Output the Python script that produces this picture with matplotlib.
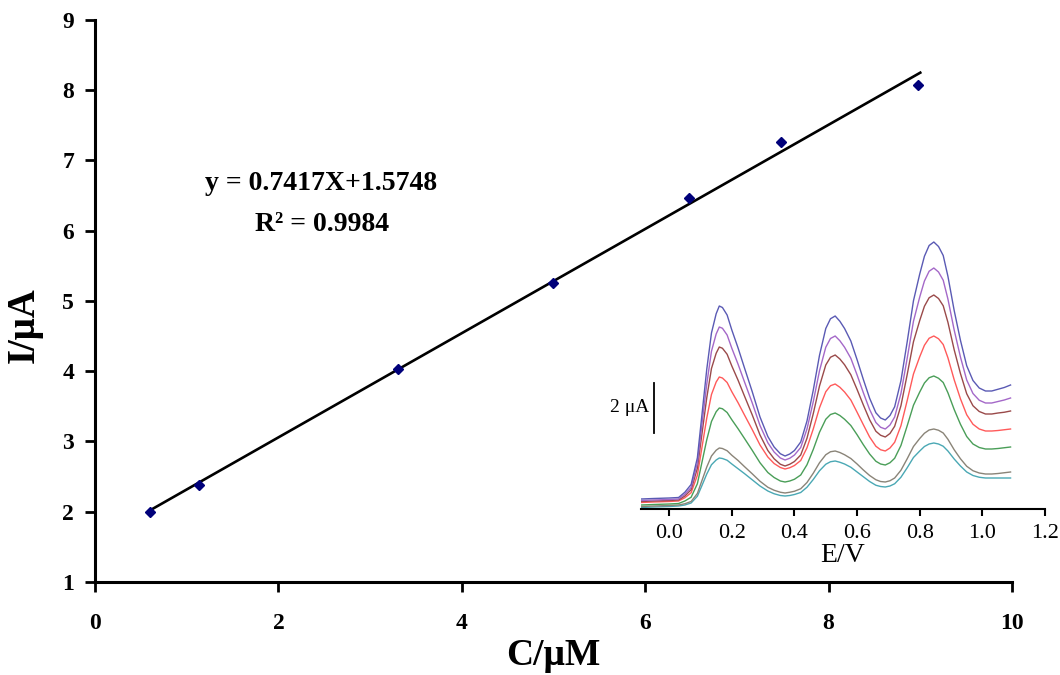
import matplotlib
matplotlib.use("Agg")
import matplotlib.pyplot as plt

plt.rcParams['font.family'] = ['Liberation Serif', 'DejaVu Serif']

# ---------------- main calibration data ----------------
conc = [0.6, 1.13, 3.3, 5.0, 6.48, 7.48, 8.97]
current = [2.0, 2.38, 4.03, 5.26, 6.47, 7.26, 8.07]
slope = 0.7417
intercept = 1.5748
fit_x = [0.6, 9.0]
x_ticks = [0, 2, 4, 6, 8, 10]
y_ticks = [1, 2, 3, 4, 5, 6, 7, 8, 9]

# ---------------- inset voltammograms (μA) ----------------
E = [-0.09, -0.05, 0.0, 0.03,
     0.05, 0.07, 0.09, 0.105, 0.12, 0.135, 0.15, 0.16,
     0.17, 0.185, 0.20, 0.22, 0.24, 0.265, 0.29, 0.315, 0.335, 0.355, 0.37,
     0.385, 0.40, 0.42, 0.44, 0.46, 0.48, 0.50, 0.515, 0.53,
     0.545, 0.56, 0.58, 0.60, 0.62, 0.64, 0.66, 0.675, 0.69,
     0.705, 0.72, 0.74, 0.76, 0.78, 0.80, 0.815, 0.83, 0.845,
     0.86, 0.875, 0.89, 0.91, 0.93, 0.95, 0.97, 0.99, 1.01, 1.03,
     1.05, 1.07, 1.09]
i_blue = [0.40, 0.42, 0.44, 0.46,
          0.67, 0.98, 2.05, 3.82, 5.59, 7.04, 7.81, 8.12,
          8.06, 7.76, 7.16, 6.44, 5.66, 4.70, 3.68, 2.90, 2.48, 2.21, 2.12,
          2.20, 2.34, 2.68, 3.52, 4.75, 6.15, 7.22, 7.61, 7.72,
          7.51, 7.22, 6.72, 5.97, 5.18, 4.43, 3.85, 3.64, 3.56,
          3.74, 4.09, 5.13, 6.69, 8.33, 9.40, 10.11, 10.54, 10.68,
          10.50, 10.14, 9.31, 7.94, 6.75, 5.73, 5.14, 4.84, 4.72, 4.72,
          4.79, 4.86, 4.96]
i_purple = [0.34, 0.36, 0.38, 0.40,
            0.59, 0.86, 1.83, 3.42, 5.00, 6.31, 7.00, 7.28,
            7.23, 6.96, 6.43, 5.79, 5.10, 4.25, 3.34, 2.65, 2.28, 2.04, 1.96,
            2.03, 2.16, 2.46, 3.20, 4.29, 5.53, 6.47, 6.82, 6.92,
            6.73, 6.47, 6.03, 5.36, 4.65, 3.98, 3.46, 3.27, 3.20,
            3.36, 3.68, 4.62, 6.03, 7.51, 8.48, 9.12, 9.51, 9.64,
            9.48, 9.15, 8.40, 7.16, 6.08, 5.16, 4.62, 4.35, 4.24, 4.24,
            4.30, 4.36, 4.44]
i_brown = [0.30, 0.32, 0.34, 0.36,
           0.52, 0.77, 1.63, 3.04, 4.45, 5.62, 6.23, 6.48,
           6.43, 6.19, 5.72, 5.15, 4.53, 3.77, 2.96, 2.34, 2.01, 1.79, 1.72,
           1.79, 1.90, 2.16, 2.83, 3.81, 4.92, 5.76, 6.07, 6.16,
           6.00, 5.77, 5.37, 4.78, 4.16, 3.57, 3.11, 2.95, 2.88,
           3.02, 3.31, 4.13, 5.38, 6.69, 7.54, 8.11, 8.45, 8.56,
           8.42, 8.13, 7.47, 6.37, 5.42, 4.61, 4.13, 3.90, 3.80, 3.80,
           3.84, 3.87, 3.92]
i_red = [0.26, 0.28, 0.30, 0.32,
         0.45, 0.65, 1.35, 2.49, 3.64, 4.58, 5.08, 5.28,
         5.24, 5.06, 4.69, 4.25, 3.77, 3.18, 2.56, 2.08, 1.82, 1.66, 1.60,
         1.65, 1.74, 1.94, 2.45, 3.20, 4.05, 4.69, 4.93, 5.00,
         4.87, 4.68, 4.36, 3.87, 3.37, 2.88, 2.51, 2.37, 2.32,
         2.44, 2.67, 3.33, 4.34, 5.40, 6.09, 6.55, 6.83, 6.92,
         6.81, 6.58, 6.05, 5.17, 4.41, 3.77, 3.39, 3.20, 3.12, 3.12,
         3.14, 3.17, 3.20]
i_green = [0.16, 0.18, 0.20, 0.22,
           0.32, 0.47, 1.01, 1.89, 2.77, 3.50, 3.89, 4.04,
           4.01, 3.86, 3.57, 3.21, 2.83, 2.35, 1.85, 1.46, 1.26, 1.12, 1.08,
           1.12, 1.19, 1.36, 1.77, 2.38, 3.07, 3.59, 3.78, 3.84,
           3.74, 3.59, 3.34, 2.97, 2.57, 2.20, 1.91, 1.80, 1.76,
           1.85, 2.03, 2.54, 3.33, 4.15, 4.68, 5.04, 5.25, 5.32,
           5.23, 5.06, 4.65, 3.98, 3.39, 2.90, 2.60, 2.46, 2.40, 2.40,
           2.42, 2.45, 2.48]
i_gray = [0.10, 0.12, 0.14, 0.16,
          0.21, 0.30, 0.62, 1.15, 1.68, 2.12, 2.35, 2.44,
          2.42, 2.33, 2.15, 1.94, 1.70, 1.41, 1.11, 0.87, 0.75, 0.67, 0.64,
          0.67, 0.71, 0.81, 1.06, 1.43, 1.85, 2.17, 2.29, 2.32,
          2.26, 2.17, 2.02, 1.80, 1.56, 1.34, 1.17, 1.10, 1.08,
          1.13, 1.24, 1.55, 2.01, 2.50, 2.82, 3.03, 3.16, 3.20,
          3.15, 3.04, 2.79, 2.37, 2.01, 1.71, 1.53, 1.44, 1.40, 1.40,
          1.42, 1.45, 1.48]
i_cyan = [0.06, 0.08, 0.10, 0.12,
          0.16, 0.24, 0.51, 0.95, 1.40, 1.77, 1.96, 2.04,
          2.02, 1.95, 1.80, 1.61, 1.42, 1.17, 0.92, 0.72, 0.61, 0.54, 0.52,
          0.54, 0.58, 0.66, 0.87, 1.18, 1.53, 1.79, 1.89, 1.92,
          1.87, 1.80, 1.67, 1.48, 1.29, 1.10, 0.95, 0.90, 0.88,
          0.92, 1.01, 1.27, 1.65, 2.06, 2.32, 2.50, 2.60, 2.64,
          2.60, 2.51, 2.32, 2.00, 1.72, 1.48, 1.34, 1.27, 1.24, 1.24,
          1.24, 1.24, 1.24]
inset_series = [i_cyan, i_gray, i_green, i_red, i_brown, i_purple, i_blue]
inset_colors = ['#4aa8b4', '#8a8478', '#4a9e58', '#ff5a5a', '#9a4a4a', '#a468c8', '#5a5ab4']
inset_ticks = [0.0, 0.2, 0.4, 0.6, 0.8, 1.0, 1.2]

fig = plt.figure(figsize=(10.6, 6.75), dpi=100)
ax = fig.add_axes([0.0896, 0.1378, 0.8651, 0.8326])

ax.plot(fit_x, [slope * v + intercept for v in fit_x], color='black', lw=1.9, zorder=2)
ax.plot(conc, current, linestyle='none', marker='D', markersize=5,
        color='#00007a', zorder=3)

ax.set_xlim(0, 10)
ax.set_ylim(1, 9)
ax.set_xticks(x_ticks)
ax.set_yticks(y_ticks)
for s in ['top', 'right']:
    ax.spines[s].set_visible(False)
for s in ['left', 'bottom']:
    ax.spines[s].set_linewidth(2.2)
ax.tick_params(axis='both', direction='out', length=7, width=2.0, labelsize=17)
for lab in ax.get_xticklabels() + ax.get_yticklabels():
    lab.set_fontweight('bold')
ax.tick_params(axis='x', pad=15)
ax.tick_params(axis='y', pad=8)

ax.set_xlabel('C/μM', fontsize=27, fontweight='bold')
ax.set_ylabel('I/μA', fontsize=28, fontweight='bold')
ax.xaxis.set_label_coords(0.5, -0.10)
ax.yaxis.set_label_coords(-0.057, 0.457)

fig.text(321 / 1060, 1 - 183 / 675, 'y = 0.7417X+1.5748', ha='center', va='center',
         fontsize=20, fontweight='bold')
fig.text(322 / 1060, 1 - 225 / 675, 'R² = 0.9984', ha='center', va='center',
         fontsize=20, fontweight='bold')

# ---------------- inset ----------------
ins = fig.add_axes([641 / 1060, 1 - 509 / 675, (1045 - 641) / 1060, (509 - 235) / 675])
ins.patch.set_alpha(0)
for c, s in zip(inset_colors, inset_series):
    ins.plot(E, s, color=c, lw=1.0)
ins.set_xlim(-0.09, 1.2)
ins.set_ylim(0, 10.96)
ins.set_xticks(inset_ticks)
ins.set_xticklabels(['%.1f' % t for t in inset_ticks])
ins.set_yticks([])
for s in ['top', 'right', 'left']:
    ins.spines[s].set_visible(False)
ins.spines['bottom'].set_linewidth(1.5)
ins.tick_params(axis='x', direction='out', length=5, width=1.5, labelsize=16, pad=6)
ins.set_xlabel('E/V', fontsize=20, labelpad=0)

# scale bar 2 μA
ins.plot([-0.047, -0.047], [(509 - 433) / 25, (509 - 383) / 25], color='black', lw=1.3,
         clip_on=False)
ins.text(-0.062, (509 - 408) / 25, '2 μA', ha='right', va='center', fontsize=14)

fig.savefig('out.png', dpi=100)
